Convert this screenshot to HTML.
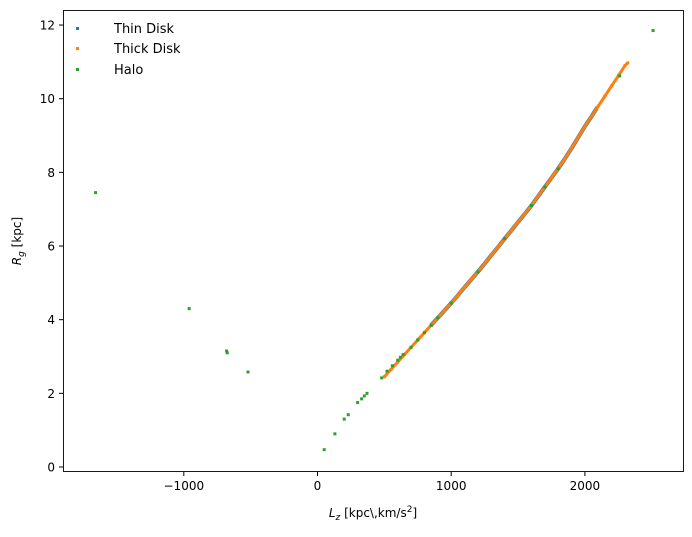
<!DOCTYPE html>
<html><head><meta charset="utf-8"><style>
body{margin:0;background:#fff;font-family:"Liberation Sans","DejaVu Sans",sans-serif}
svg text{font-family:"DejaVu Sans","Liberation Sans",sans-serif;fill:#000}
</style></head><body>
<svg id="chart" width="692" height="532" xmlns="http://www.w3.org/2000/svg">
<rect x="0" y="0" width="692" height="532" fill="#fff"/>
<g id="marks"></g>
<rect x="63.5" y="10.5" width="620" height="461" fill="none" stroke="#000" stroke-width="0.9"/>
<g id="axes"></g>
<text x="373" y="517" font-size="12" text-anchor="middle"><tspan font-style="italic">L</tspan><tspan font-size="9" dy="3" font-style="italic">z</tspan><tspan dy="-3"> [kpc\,km/s</tspan><tspan font-size="9" dy="-5">2</tspan><tspan dy="5">]</tspan></text>
<text transform="translate(21,241) rotate(-90)" font-size="12" text-anchor="middle"><tspan font-style="italic">R</tspan><tspan font-size="9" dy="3" font-style="italic">g</tspan><tspan dy="-3"> [kpc]</tspan></text>
<g>
<rect x="76" y="27" width="3" height="3" fill="#1f77b4"/>
<text x="114" y="33" font-size="13">Thin Disk</text>
<rect x="76" y="47" width="3" height="3" fill="#ff7f0e"/>
<text x="114" y="53" font-size="13">Thick Disk</text>
<rect x="76" y="68" width="3" height="3" fill="#2ca02c"/>
<text x="114" y="74" font-size="13">Halo</text>
</g>
</svg>
<script>
const xTicks=[-1000,0,1000,2000];
const yTicks=[0,2,4,6,8,10,12];
const thinLz=[850,900,950,1000,1050,1100,1150,1200,1250,1300,1350,1400,1450,1500,1550,1600,1650,1700,1750,1800,1850,1900,1950,2000,2050,2090];
const thinRg=[3.85,4.05,4.25,4.45,4.66,4.88,5.09,5.3,5.52,5.75,5.97,6.2,6.42,6.65,6.87,7.1,7.35,7.6,7.85,8.1,8.37,8.65,8.95,9.25,9.52,9.75];
const thickLz=[500,550,600,650,700,750,800,850,900,950,1000,1050,1100,1150,1200,1250,1300,1350,1400,1450,1500,1550,1600,1650,1700,1750,1800,1850,1900,1950,2000,2050,2100,2150,2200,2250,2300,2320];
const thickRg=[2.45,2.65,2.85,3.05,3.25,3.45,3.65,3.85,4.05,4.25,4.45,4.66,4.88,5.09,5.3,5.52,5.75,5.97,6.2,6.42,6.65,6.87,7.1,7.35,7.6,7.85,8.1,8.37,8.65,8.95,9.25,9.52,9.8,10.07,10.35,10.62,10.9,10.97];
const haloLz=[-1660,-960,-680,-675,-520,50,130,200,230,300,330,350,370,480,520,560,600,620,640,700,750,800,850,900,1000,1200,1400,1600,1700,1800,2260,2510];
const haloRg=[7.45,4.3,3.15,3.1,2.58,0.47,0.9,1.3,1.42,1.75,1.85,1.93,2.0,2.42,2.6,2.75,2.9,2.98,3.05,3.25,3.45,3.65,3.85,4.05,4.45,5.3,6.2,7.1,7.6,8.1,10.62,11.85];
const X=v=>317.5+v*0.1337;
const Y=v=>467-v*36.83;
const NS="http://www.w3.org/2000/svg";
const marks=document.getElementById('marks'), axes=document.getElementById('axes');
function line(lz,rg,color,w,name){
  const p=document.createElementNS(NS,'polyline');
  p.setAttribute('points',lz.map((v,i)=>X(v)+','+Y(rg[i])).join(' '));
  p.setAttribute('fill','none');p.setAttribute('stroke',color);p.setAttribute('stroke-width',w);
  
  
  marks.appendChild(p);
}
function pts(lz,rg,color,name){
  lz.forEach((v,i)=>{
    const r=document.createElementNS(NS,'rect');
    r.setAttribute('x',X(v)-1.5);r.setAttribute('y',Y(rg[i])-1.5);
    r.setAttribute('width',3);r.setAttribute('height',3);r.setAttribute('fill',color);
    
    
    marks.appendChild(r);
  });
}
line(thinLz,thinRg,'#1f77b4',4,'thin-disk-band');
pts(thinLz,thinRg,'#1f77b4','thin-disk-point');
line(thickLz,thickRg,'#ff7f0e',3,'thick-disk-band');
pts(thickLz,thickRg,'#ff7f0e','thick-disk-point');
pts(haloLz,haloRg,'#2ca02c','halo-point');
xTicks.forEach(t=>{
  const l=document.createElementNS(NS,'line');
  l.setAttribute('x1',X(t));l.setAttribute('x2',X(t));l.setAttribute('y1',472);l.setAttribute('y2',476);l.setAttribute('stroke','#000');
  
  
  axes.appendChild(l);
  const tx=document.createElementNS(NS,'text');
  tx.setAttribute('x',X(t));tx.setAttribute('y',490);tx.setAttribute('font-size',12);tx.setAttribute('text-anchor','middle');
  tx.textContent=(t<0?'\u2212'+(-t):t);
  
  
  axes.appendChild(tx);
});
yTicks.forEach(t=>{
  const l=document.createElementNS(NS,'line');
  l.setAttribute('x1',59);l.setAttribute('x2',63);l.setAttribute('y1',Y(t));l.setAttribute('y2',Y(t));l.setAttribute('stroke','#000');
  
  
  axes.appendChild(l);
  const tx=document.createElementNS(NS,'text');
  tx.setAttribute('x',55);tx.setAttribute('y',Y(t)+4.5);tx.setAttribute('font-size',12);tx.setAttribute('text-anchor','end');
  tx.textContent=t;
  
  
  axes.appendChild(tx);
});
</script>
</body></html>
